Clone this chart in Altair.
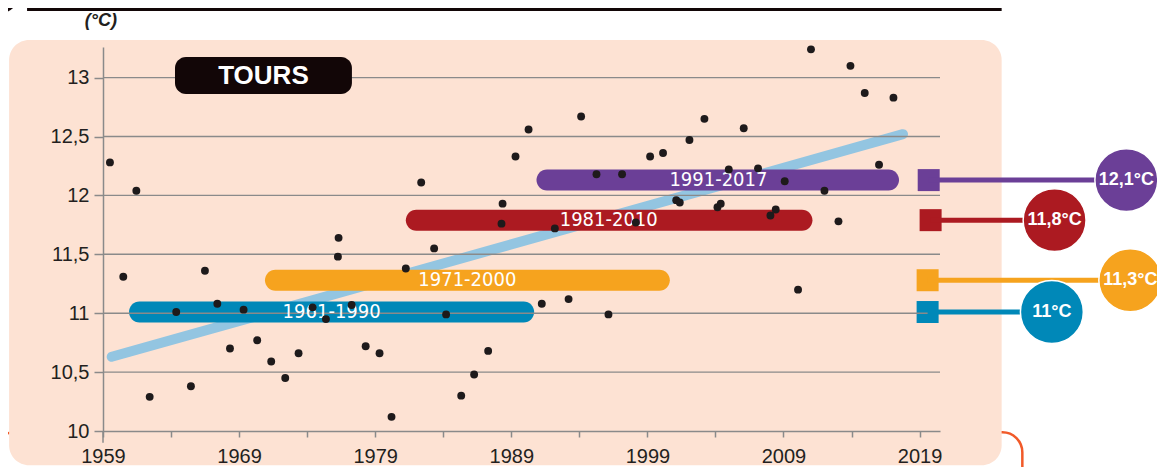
import altair as alt
import pandas as pd

# ---------------- data ----------------
years = [1959.51, 1960.49, 1961.45, 1962.43, 1964.38, 1965.46, 1966.49, 1967.40, 1968.33, 1969.33,
         1970.33, 1971.36, 1972.39, 1973.37, 1974.40, 1975.38, 1976.31, 1976.26, 1977.27, 1978.30,
         1979.32, 1980.20, 1981.25, 1982.38, 1983.33, 1984.21, 1985.32, 1986.27, 1987.30, 1988.28,
         1988.36, 1989.31, 1990.27, 1991.24, 1992.20, 1993.21, 1994.13, 1995.26, 1996.14, 1997.14,
         1998.15, 1999.20, 2000.15, 2001.12, 2001.38, 2002.09, 2003.19, 2004.15, 2004.39, 2004.98,
         2006.08, 2007.13, 2008.04, 2008.43, 2009.09, 2010.07, 2011.02, 2012.01, 2013.04, 2013.92,
         2014.97, 2016.02, 2017.08]
temps = [12.28, 11.31, 12.04, 10.29, 11.01, 10.38, 11.36, 11.08, 10.70, 11.03,
         10.77, 10.59, 10.45, 10.66, 11.05, 10.95, 11.64, 11.48, 11.07, 10.72,
         10.66, 10.12, 11.38, 12.11, 11.55, 10.99, 10.30, 10.48, 10.68, 11.76,
         11.93, 12.33, 12.56, 11.08, 11.72, 11.12, 12.67, 12.18, 10.99, 12.18,
         11.77, 12.33, 12.36, 11.96, 11.94, 12.47, 12.65, 11.90, 11.93, 12.22,
         12.57, 12.23, 11.83, 11.88, 12.12, 11.20, 13.24, 12.04, 11.78, 13.10,
         12.87, 12.26, 12.83]

trend_years = [1959.64, 2017.78]
trend_values = [10.63, 12.52]

band_names = ["1961-1990", "1971-2000", "1981-2010", "1991-2017"]
band_start = [1960.91, 1970.90, 1981.25, 1990.85]
band_end = [1990.68, 2000.65, 2011.13, 2017.49]
band_mean = [11.01, 11.28, 11.79, 12.13]
band_label_x = [1975.80, 1985.77, 1996.16, 2004.22]
mean_labels = ["11°C", "11,3°C", "11,8°C", "12,1°C"]
marker_x = [2019.59, 2019.59, 2019.81, 2019.67]
bubble_x = [2028.72, 2034.48, 2028.92, 2034.19]
band_colors = ["#0088B8", "#F6A31E", "#AC1A21", "#6B3F97"]

y_ticks = [10, 10.5, 11, 11.5, 12, 12.5, 13]
x_ticks = list(range(1959, 2020, 5))

# ---------------- scales & axes ----------------
AX = "#8a8a8a"
TXT = "#231F20"
xs = alt.Scale(domain=[1959, 2020.5], nice=False, zero=False, padding=0)
ys = alt.Scale(domain=[10, 13.26], nice=False, zero=False, padding=0)
xax = alt.Axis(values=x_ticks,
               labelExpr="(datum.value - 1959) % 10 == 0 ? format(datum.value, 'd') : ''",
               grid=False, tickSize=6, labelPadding=9, labelFlush=False, labelOverlap=False,
               domainColor=AX, tickColor=AX, domainWidth=1.5, tickWidth=1.5,
               labelFont="Liberation Sans", labelFontSize=20, labelColor=TXT,
               title=None, zindex=1)
yax = alt.Axis(values=y_ticks,
               labelExpr="replace(format(datum.value, '.1~f'), '.', ',')",
               grid=False, tickSize=9, labelPadding=5, labelFlush=False, labelOverlap=False,
               domainColor=AX, tickColor=AX, domainWidth=1.5, tickWidth=1.5,
               labelFont="Liberation Sans", labelFontSize=20, labelColor=TXT,
               title=None, zindex=1)


def X(f):
    return alt.X(f"{f}:Q", scale=xs, axis=xax)


def Y(f):
    return alt.Y(f"{f}:Q", scale=ys, axis=yax)


# ---------------- tables ----------------
pts = pd.DataFrame({"year": years, "temp": temps})
trend = pd.DataFrame({"year": trend_years, "temp": trend_values})
bands = pd.DataFrame({"name": band_names, "start": band_start, "end": band_end,
                      "mean": band_mean, "lx": band_label_x, "lab": mean_labels,
                      "mx": marker_x, "bx": bubble_x, "col": band_colors})
grid = pd.DataFrame({"v": y_ticks[1:], "a": 1959, "b": 2020.5})

# decorative panels (in data units of the scales)
outline = alt.Chart(pd.DataFrame({"x": [1951.0], "x2": [2026.55], "y": [9.989], "y2": [9.3]})).mark_rect(
    fill="transparent", stroke="#F15A29", strokeWidth=2.5, cornerRadius=20
).encode(x=X("x"), x2="x2:Q", y=Y("y"), y2="y2:Q")

panel = alt.Chart(pd.DataFrame({"x": [1952.10], "x2": [2025.03], "y": [13.32], "y2": [9.71]})).mark_rect(
    fill="#FDE2D3", cornerRadius=20
).encode(x=X("x"), x2="x2:Q", y=Y("y"), y2="y2:Q")

topbar = alt.Chart(pd.DataFrame({"x": [1953.42], "x2": [2025.03], "y": [13.62], "y2": [13.565]})).mark_rect(
    fill="#120607"
).encode(x=X("x"), x2="x2:Q", y=Y("y"), y2="y2:Q")

topdot = alt.Chart(pd.DataFrame({"x": [1950.99], "y": [13.778]})).mark_circle(
    size=3632, color="#120607", opacity=1, stroke="white", strokeWidth=2
).encode(x=X("x"), y=Y("y"))

gridlines = alt.Chart(grid).mark_rule(color=AX, strokeWidth=1.4).encode(
    x=X("a"), x2="b:Q", y=Y("v"))

yext = alt.Chart(pd.DataFrame({"x": [1959], "y": [10.0], "y2": [9.90]})).mark_rule(
    color=AX, strokeWidth=1.5).encode(x=X("x"), y=Y("y"), y2="y2:Q")

trend_line = alt.Chart(trend).mark_line(color="#93C5E1", strokeWidth=10, strokeCap="round").encode(
    x=X("year"), y=Y("temp"))

band_bars = alt.Chart(bands).mark_bar(size=21, cornerRadius=10.5).encode(
    x=X("start"), x2="end:Q", y=Y("mean"), color=alt.Color("col:N", scale=None))

band_text = alt.Chart(bands).mark_text(
    font="DejaVu Sans Condensed", fontSize=20, color="white", baseline="middle", align="center"
).encode(x=X("lx"), y=Y("mean"), text="name:N")

connectors = alt.Chart(bands).mark_rule(strokeWidth=5).encode(
    x=X("mx"), x2="bx:Q", y=Y("mean"), color=alt.Color("col:N", scale=None))

squares = alt.Chart(bands).mark_square(size=484, opacity=1).encode(
    x=X("mx"), y=Y("mean"), color=alt.Color("col:N", scale=None))

bubbles = alt.Chart(bands).mark_circle(size=3959, opacity=1, stroke="white", strokeWidth=1.5).encode(
    x=X("bx"), y=Y("mean"), color=alt.Color("col:N", scale=None))

bubble_text = alt.Chart(bands).mark_text(
    font="Liberation Sans", fontWeight="bold", fontSize=18, color="white", baseline="middle", align="center"
).encode(x=X("bx"), y=Y("mean"), text="lab:N")

city_box = alt.Chart(pd.DataFrame({"x": [1964.29], "x2": [1977.29], "y": [13.176], "y2": [12.862]})).mark_rect(
    fill="#120607", cornerRadius=11
).encode(x=X("x"), x2="x2:Q", y=Y("y"), y2="y2:Q")

city_text = alt.Chart(pd.DataFrame({"x": [1970.79], "y": [13.013], "t": ["TOURS"]})).mark_text(
    font="Liberation Sans", fontWeight="bold", fontSize=26, color="white", baseline="middle", align="center"
).encode(x=X("x"), y=Y("y"), text="t:N")

unit_text = alt.Chart(pd.DataFrame({"x": [1958.85], "y": [13.48], "t": ["(°C)"]})).mark_text(
    font="Liberation Sans", fontWeight="bold", fontStyle="italic", fontSize=18, color=TXT,
    baseline="middle", align="center"
).encode(x=X("x"), y=Y("y"), text="t:N")

points = alt.Chart(pts).mark_circle(size=62, color="#1E1A1B", opacity=1).encode(
    x=X("year"), y=Y("temp"))

chart = alt.layer(
    outline, panel, topbar, topdot, trend_line, band_bars, squares, gridlines, yext,
    band_text, connectors, bubbles, bubble_text, city_box, city_text, unit_text, points
).properties(
    width=837, height=384,
    autosize=alt.AutoSizeParams(type="none"),
    padding={"left": 95, "top": 39, "right": 217, "bottom": 36},
    background="white",
).configure_view(stroke=None)

chart.save("out.html", embed_options={"renderer": "svg", "actions": False})
